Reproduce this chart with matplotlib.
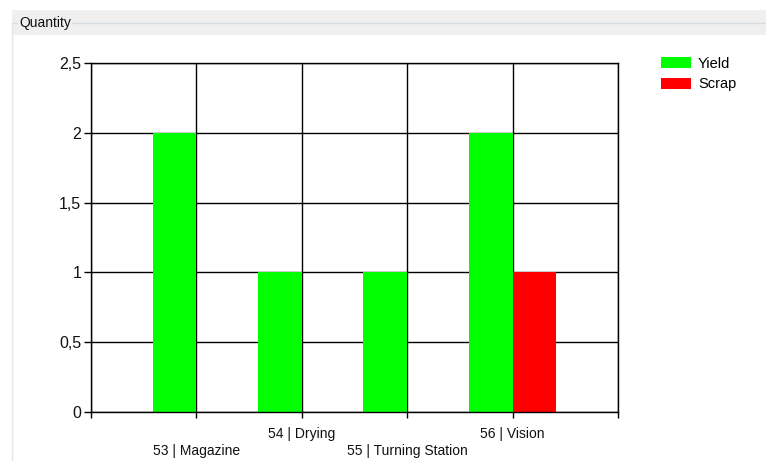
import matplotlib.pyplot as plt
from matplotlib.patches import Rectangle
from matplotlib.lines import Line2D
from matplotlib.ticker import FuncFormatter

# chart data
stations = ["53 | Magazine", "54 | Drying", "55 | Turning Station", "56 | Vision"]
yield_qty = [2, 1, 1, 2]
scrap_qty = [0, 0, 0, 1]
y_ticks = [0, 0.5, 1, 1.5, 2, 2.5]

plt.rcParams['font.family'] = ['Liberation Sans', 'DejaVu Sans']

W, H = 766, 461
fig = plt.figure(figsize=(W / 100, H / 100), dpi=100)
fig.patch.set_facecolor('white')

# group box header "Quantity"
fig.patches.append(Rectangle((12 / W, 1 - 35 / H), 1, 25 / H, transform=fig.transFigure,
                             facecolor='#efefef', edgecolor='none', zorder=0))
fig.lines.append(Line2D([12 / W, 1], [1 - 23 / H, 1 - 23 / H], transform=fig.transFigure,
                        color='#d5dde3', linewidth=1, zorder=1))
fig.lines.append(Line2D([12 / W, 12 / W], [0, 1 - 23 / H], transform=fig.transFigure,
                        color='#e6e6e6', linewidth=1, zorder=1))
fig.text(19 / W, 1 - 23.5 / H, "Quantity", fontsize=10, va='center', ha='left',
         color='#111111', zorder=2,
         bbox=dict(facecolor='#efefef', edgecolor='none', pad=1))

ax = fig.add_axes([91 / W, 49 / H, (618 - 91) / W, (412 - 63) / H])
pos = list(range(1, len(stations) + 1))
bw = 0.415
ax.bar([p - bw / 2 for p in pos], yield_qty, width=bw, color='#00ff00', label='Yield', zorder=2)
ax.bar([p + bw / 2 for p in pos], scrap_qty, width=bw, color='#ff0000', label='Scrap', zorder=2)

ax.set_xlim(0, len(stations) + 1)
ax.set_ylim(0, 2.5)
ax.set_yticks(y_ticks)
ax.yaxis.set_major_formatter(FuncFormatter(lambda v, p: ('%g' % v).replace('.', ',')))
ax.set_xticks(range(0, len(stations) + 2))
labels = [''] + [s if i % 2 else '\n' + s for i, s in enumerate(stations)] + ['']
ax.set_xticklabels(labels, linespacing=1.25)
ax.tick_params(axis='x', length=4, width=1, color='black', labelsize=10, labelcolor='#111111', pad=7)
ax.tick_params(axis='y', length=5, width=1, color='black', labelsize=11.5, labelcolor='#111111', pad=2)
ax.grid(True, color='black', linewidth=1, zorder=1)
ax.set_axisbelow(True)
for s in ax.spines.values():
    s.set_color('black')
    s.set_linewidth(1)

leg = fig.legend(loc='upper left', bbox_to_anchor=(655 / W, 1 - 51 / H), frameon=False,
                 fontsize=10.5, handlelength=2.1, handleheight=0.75, handletextpad=0.45,
                 labelspacing=0.45, borderaxespad=0)

fig.savefig('out.png', dpi=100)
